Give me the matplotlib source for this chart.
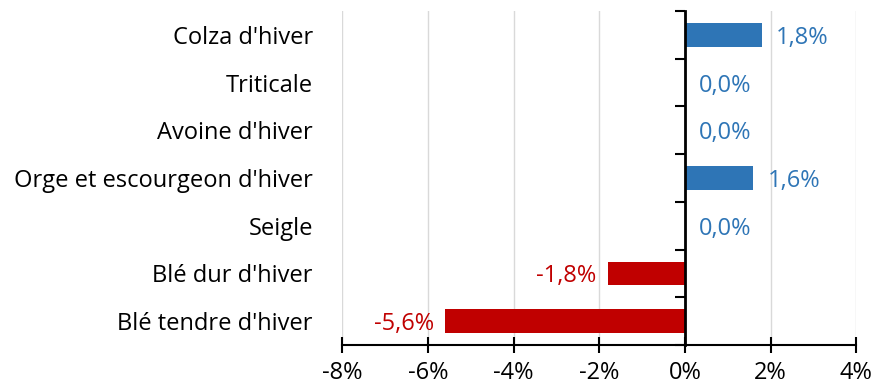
import matplotlib
matplotlib.use("Agg")
import matplotlib.pyplot as plt
import numpy as np

categories = ["Colza d'hiver", "Triticale", "Avoine d'hiver",
              "Orge et escourgeon d'hiver", "Seigle", "Blé dur d'hiver",
              "Blé tendre d'hiver"]
values = [1.8, 0.0, 0.0, 1.6, 0.0, -1.8, -5.6]
x_ticks = [-8, -6, -4, -2, 0, 2, 4]

BLUE = "#2E75B6"
RED = "#C00000"

plt.rcParams["font.family"] = ["Open Sans", "DejaVu Sans"]
plt.rcParams["font.size"] = 17

fig = plt.figure(figsize=(8.91, 3.87), dpi=100)
ax = fig.add_axes([0.384, 0.1085, 0.577, 0.863])

y = np.arange(len(categories))
colors = [RED if v < 0 else BLUE for v in values]
ax.barh(y, values, height=0.5, color=colors, zorder=3)

for yi, v, c in zip(y, values, colors):
    label = f"{v:.1f}%".replace(".", ",")
    if v < 0:
        ax.annotate(label, (v, yi), xytext=(-8, 0), textcoords="offset points",
                    ha="right", va="center_baseline", color=c, fontsize=17)
    else:
        ax.annotate(label, (v, yi), xytext=(10, 0), textcoords="offset points",
                    ha="left", va="center_baseline", color=c, fontsize=17)

ax.set_xlim(x_ticks[0], x_ticks[-1])
ax.set_ylim(len(categories) - 0.5, -0.5)
ax.set_xticks(x_ticks)
ax.set_xticklabels([f"{t}%" for t in x_ticks])
ax.set_yticks(y)
ax.set_yticklabels(categories)
ax.tick_params(axis="y", length=0, pad=21)
ax.tick_params(axis="x", direction="inout", length=11, width=1.5, pad=6)

ax.grid(axis="x", color="#D9D9D9", linewidth=1, zorder=0)
for side in ["left", "right", "top"]:
    ax.spines[side].set_visible(False)
ax.spines["bottom"].set_linewidth(1.5)

# zero line with ticks between categories
zero_pos = (0 - x_ticks[0]) / (x_ticks[-1] - x_ticks[0])
sec = ax.secondary_yaxis(zero_pos)
sec.set_yticks(np.arange(-0.5, len(categories), 1.0))
sec.set_yticklabels([])
sec.tick_params(axis="y", direction="in", length=7, width=1.5)
sec.set_zorder(4)
for s in sec.spines.values():
    s.set_linewidth(2)
    s.set_color("black")

fig.savefig("out.png", dpi=100)
